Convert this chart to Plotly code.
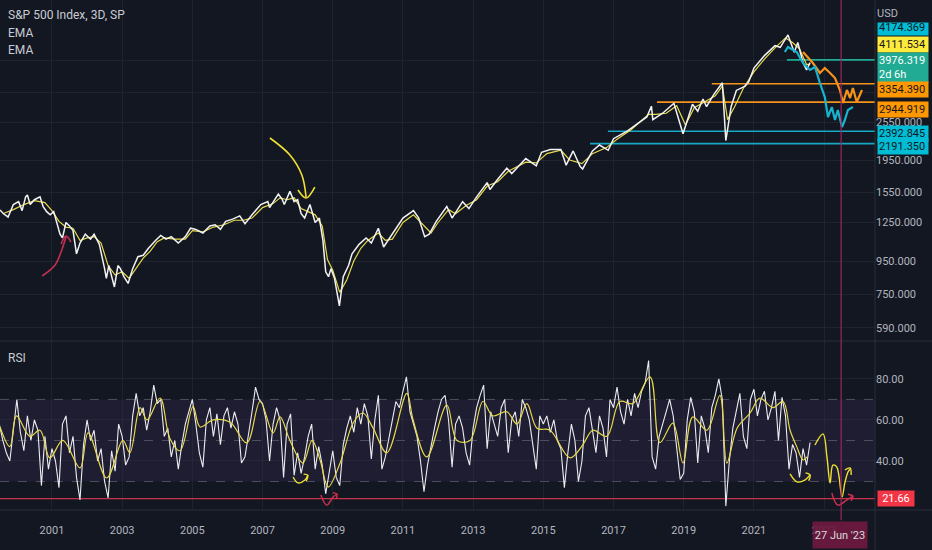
import numpy as np
import plotly.graph_objects as go

BG = "#131722"
TXT = "#b2b5be"
GRID = "rgba(54,58,69,0.35)"
FONT = "Roboto, sans-serif"

# visible time window (decimal years)
X_START, X_END = 1999.52, 2024.45

# S&P 500 close (3D)
PRICE_T = [1999.52, 1999.62, 1999.75, 1999.90, 2000.05, 2000.15, 2000.25, 2000.30, 2000.38, 2000.50,
           2000.66, 2000.75, 2000.85, 2000.95, 2001.05, 2001.15, 2001.23, 2001.30, 2001.40, 2001.50,
           2001.60, 2001.70, 2001.80, 2001.95, 2002.10, 2002.20, 2002.35, 2002.50, 2002.55, 2002.62,
           2002.70, 2002.78, 2002.88, 2002.95, 2003.05, 2003.17, 2003.30, 2003.45, 2003.60, 2003.75,
           2003.95, 2004.10, 2004.25, 2004.40, 2004.60, 2004.80, 2004.95, 2005.10, 2005.30, 2005.50,
           2005.65, 2005.80, 2005.95, 2006.15, 2006.35, 2006.50, 2006.70, 2006.95, 2007.15, 2007.20,
           2007.45, 2007.55, 2007.62, 2007.78, 2007.90, 2008.00, 2008.10, 2008.20, 2008.35, 2008.50,
           2008.62, 2008.72, 2008.80, 2008.88, 2008.95, 2009.05, 2009.19, 2009.30, 2009.45, 2009.55,
           2009.75, 2009.95, 2010.10, 2010.30, 2010.45, 2010.60, 2010.75, 2011.00, 2011.30, 2011.45,
           2011.62, 2011.75, 2011.95, 2012.25, 2012.40, 2012.70, 2012.88, 2013.10, 2013.40, 2013.48,
           2013.70, 2013.96, 2014.10, 2014.50, 2014.80, 2014.95, 2015.20, 2015.50, 2015.65, 2015.85,
           2016.05, 2016.12, 2016.40, 2016.60, 2016.85, 2017.00, 2017.40, 2017.95, 2018.08, 2018.12,
           2018.40, 2018.72, 2018.98, 2019.25, 2019.40, 2019.55, 2019.65, 2019.85, 2020.10, 2020.20,
           2020.35, 2020.50, 2020.75, 2020.85, 2021.00, 2021.30, 2021.60, 2021.75, 2021.97, 2022.15,
           2022.25, 2022.40, 2022.50, 2022.60]
PRICE_V = [1366, 1330, 1300, 1420, 1450, 1360, 1500, 1520, 1420, 1470,
           1500, 1400, 1350, 1320, 1350, 1240, 1150, 1120, 1250, 1220,
           1180, 1000, 1080, 1150, 1110, 1150, 1070, 900, 840, 920,
           850, 790, 920, 900, 850, 810, 900, 980, 990, 1040,
           1100, 1140, 1110, 1130, 1080, 1130, 1200, 1190, 1160, 1220,
           1230, 1190, 1260, 1280, 1310, 1240, 1320, 1420, 1450, 1390,
           1530, 1480, 1420, 1560, 1450, 1470, 1330, 1290, 1420, 1250,
           1290, 1100, 880, 850, 900, 840, 690, 850, 920, 1000,
           1070, 1120, 1080, 1200, 1050, 1110, 1180, 1290, 1360, 1290,
           1130, 1150, 1260, 1400, 1290, 1450, 1380, 1500, 1660, 1580,
           1700, 1840, 1770, 1970, 1870, 2060, 2100, 2100, 1880, 2080,
           1860, 1830, 2080, 2170, 2090, 2270, 2400, 2650, 2860, 2600,
           2720, 2920, 2350, 2900, 2760, 3010, 2850, 3100, 3380, 2240,
           2850, 3200, 3300, 3400, 3750, 4100, 4400, 4350, 4750, 4200,
           4500, 3900, 3700, 3900]

# slower EMA (yellow)
EMA_T = [1999.6, 1999.9, 2000.2, 2000.5, 2000.8, 2001.0, 2001.2, 2001.4, 2001.6, 2001.8,
         2002.0, 2002.2, 2002.4, 2002.6, 2002.8, 2003.0, 2003.2, 2003.4, 2003.6, 2003.8,
         2004.0, 2004.2, 2004.5, 2004.8, 2005.0, 2005.3, 2005.6, 2005.9, 2006.2, 2006.45,
         2006.7, 2007.0, 2007.3, 2007.5, 2007.7, 2007.9, 2008.1, 2008.3, 2008.5, 2008.7,
         2008.85, 2009.0, 2009.2, 2009.4, 2009.6, 2009.8, 2010.0, 2010.3, 2010.5, 2010.7,
         2011.0, 2011.3, 2011.6, 2011.8, 2012.0, 2012.3, 2012.5, 2012.8, 2013.1, 2013.4,
         2013.7, 2014.0, 2014.5, 2014.8, 2015.1, 2015.5, 2015.75, 2016.1, 2016.4, 2016.8,
         2017.1, 2017.5, 2018.0, 2018.2, 2018.5, 2018.8, 2019.05, 2019.3, 2019.6, 2019.9,
         2020.1, 2020.25, 2020.45, 2020.7, 2021.0, 2021.3, 2021.6, 2021.9, 2022.1, 2022.3,
         2022.5, 2022.6]
EMA_V = [1330, 1370, 1420, 1460, 1440, 1360, 1260, 1210, 1200, 1100,
         1120, 1130, 1080, 920, 860, 880, 840, 900, 970, 1020,
         1090, 1120, 1110, 1110, 1180, 1170, 1210, 1230, 1270, 1270,
         1290, 1390, 1430, 1490, 1470, 1490, 1380, 1350, 1320, 1220,
         960, 890, 760, 830, 950, 1040, 1100, 1160, 1100, 1110,
         1250, 1320, 1220, 1160, 1250, 1370, 1330, 1410, 1470, 1620,
         1670, 1800, 1920, 1910, 2040, 2090, 1950, 1900, 2040, 2130,
         2260, 2420, 2700, 2700, 2720, 2870, 2500, 2830, 2950, 3080,
         3300, 2600, 2850, 3250, 3650, 4000, 4330, 4650, 4500, 4300,
         3850, 3850]

# projected bar patterns drawn after the last bar
CYAN_PROJ_T = [2021.88, 2021.97, 2022.22, 2022.40, 2022.60, 2022.74, 2022.88, 2023.02, 2023.11,
               2023.22, 2023.31, 2023.39, 2023.51, 2023.59, 2023.68, 2023.82]
CYAN_PROJ_V = [4206, 4359, 4206, 3889, 3701, 3780, 3373, 3053, 2648,
               2843, 2592, 2783, 2466, 2592, 2783, 2843]
ORANGE_PROJ_T = [2022.40, 2022.68, 2022.88, 2023.02, 2023.17, 2023.31, 2023.45, 2023.54, 2023.65,
                 2023.74, 2023.82, 2023.93, 2024.08]
ORANGE_PROJ_V = [4206, 3889, 3623, 3753, 3623, 3495, 3209, 2926, 3209,
                 3032, 3255, 2947, 3209]

# horizontal levels: value, start, colour
LEVELS = [3976.319, 3354.390, 2944.919, 2392.845, 2191.350]
LEVEL_START = [2021.94, 2019.80, 2018.24, 2016.84, 2016.33]
LEVEL_COLOR = ["#22ab94", "#f7931a", "#f7931a", "#17a9c4", "#17a9c4"]

# price scale: 3150 and 3950 sit under the level labels, so only their grid lines show
PRICE_TICKS = [590, 750, 950, 1250, 1550, 1950, 2550, 3150, 3950]
PRICE_TICK_TEXT = ["590.000", "750.000", "950.000", "1250.000", "1550.000", "1950.000",
                   "2550.000", "", ""]
YEARS = list(range(2001, 2024, 2))

# RSI(14), one reading every 0.1 year from 1999.5
RSI_V = [58, 50, 44, 40, 55,
         70, 54, 45, 62, 50, 60, 55, 28, 52, 36,
         46, 40, 27, 58, 62, 44, 52, 32, 21, 48,
         60, 50, 55, 40, 46, 30, 22, 45, 35, 58,
         52, 38, 42, 62, 73, 62, 66, 55, 64, 77,
         68, 70, 52, 56, 42, 50, 36, 48, 58, 64,
         70, 58, 44, 37, 60, 66, 52, 63, 48, 62,
         66, 56, 64, 58, 39, 42, 52, 64, 76, 70,
         68, 60, 40, 58, 66, 60, 32, 58, 63, 33,
         44, 34, 42, 52, 58, 36, 47, 38, 24, 35,
         45, 32, 28, 48, 56, 62, 54, 66, 58, 68,
         62, 41, 60, 72, 36, 42, 52, 60, 69, 66,
         74, 81, 64, 58, 52, 40, 25, 38, 48, 56,
         64, 70, 72, 60, 37, 58, 62, 56, 44, 38,
         56, 66, 72, 77, 46, 64, 58, 52, 66, 70,
         44, 60, 64, 52, 70, 66, 60, 48, 36, 62,
         58, 62, 54, 60, 50, 46, 27, 44, 58, 50,
         30, 40, 62, 66, 56, 44, 62, 56, 42, 70,
         66, 76, 64, 58, 70, 62, 73, 66, 74, 78,
         89, 42, 36, 52, 58, 64, 70, 62, 48, 31,
         34, 60, 71, 64, 39, 62, 56, 44, 66, 72,
         80, 70, 18, 40, 56, 64, 73, 52, 46, 70,
         75, 62, 70, 74, 60, 66, 74, 50, 71, 62,
         36, 48, 44, 32, 46, 38, 49]
RSI_T = np.round(np.linspace(1999.5, 2022.6, len(RSI_V)), 2)

# RSI smoothing line (yellow)
RSI_MA_T = [1999.52, 1999.80, 1999.99, 2000.37, 2000.66, 2000.94, 2001.31, 2001.80, 2002.03, 2002.56,
            2003.02, 2003.22, 2003.51, 2003.71, 2004.08, 2004.36, 2004.65, 2005.02, 2005.22, 2005.59,
            2006.07, 2006.55, 2006.93, 2007.30, 2007.50, 2007.78, 2008.15, 2008.41, 2008.64, 2008.87,
            2009.21, 2009.58, 2009.86, 2010.15, 2010.54, 2011.11, 2011.29, 2011.68, 2012.25, 2012.54,
            2012.91, 2013.28, 2013.56, 2013.96, 2014.25, 2014.53, 2014.82, 2015.19, 2015.76, 2016.13,
            2016.41, 2016.81, 2017.18, 2017.55, 2018.04, 2018.32, 2018.69, 2018.98, 2019.26, 2019.66,
            2020.03, 2020.23, 2020.52, 2020.89, 2021.17, 2021.54, 2021.83, 2022.03, 2022.22, 2022.40,
            2022.51]
RSI_MA_V = [56.6, 47, 62, 52, 55, 41.5, 50, 36.6, 53.7, 31.7,
            50, 44, 66, 60, 70.7, 51, 45, 66.5, 56.6, 60,
            59, 48.8, 69, 53.7, 61.5, 50, 39, 50, 40.5, 27.3,
            39, 58.5, 63.4, 56, 44, 73, 60, 42, 67.3, 50,
            50, 69, 62, 64, 58, 68, 56, 55, 41.5, 48,
            55, 52, 69, 68, 81, 49, 58.5, 39, 61.5, 55,
            72, 39, 56, 63.4, 70.7, 66, 69, 55, 47, 40.5,
            42]
RSI_TICKS = [40, 60, 80]
RSI_ALERT = 21.66

CROSS_T = 2023.486  # 27 Jun '23

# hand-drawn marks: (t list, value list, colour)
PRICE_SKETCH = [
    ([2007.21, 2007.78, 2008.12, 2008.24], [2281, 2021, 1752, 1499], "#f0e130"),
    ([2008.01, 2008.24, 2008.49], [1575, 1488, 1609], "#f0e130"),
    ([2000.72, 2001.09, 2001.28, 2001.40], [854, 924, 1028, 1127], "#c2304f"),
    ([2001.26, 2001.40, 2001.54], [1072, 1135, 1088], "#c2304f"),
]
RSI_SKETCH = [
    ([2007.87, 2008.01, 2008.21, 2008.29], [32.2, 29.3, 30.7, 33.0], "#f0e130"),
    ([2008.17, 2008.29, 2008.24], [33.6, 33.0, 30.2], "#f0e130"),
    ([2008.66, 2008.83, 2009.01, 2009.12], [23.4, 18.5, 22.4, 23.9], "#d2304f"),
    ([2009.00, 2009.12, 2009.10], [24.6, 23.9, 21.6], "#d2304f"),
    ([2022.03, 2022.23, 2022.45, 2022.60], [33.7, 29.8, 30.7, 33.2], "#f0e130"),
    ([2022.47, 2022.60, 2022.56], [34.2, 33.2, 30.4], "#f0e130"),
    ([2022.74, 2022.97, 2023.08, 2023.17, 2023.25, 2023.36, 2023.51, 2023.59, 2023.68, 2023.74],
     [47.8, 53.2, 42, 29.3, 38, 37.1, 22.4, 29.3, 34.6, 36.1], "#f0e130"),
    ([2023.59, 2023.74, 2023.77], [35.6, 36.6, 33.2], "#f0e130"),
    ([2023.22, 2023.39, 2023.65, 2023.82], [24.4, 18.5, 21.0, 22.9], "#d2304f"),
    ([2023.68, 2023.82, 2023.77], [23.8, 22.9, 20.6], "#d2304f"),
]

# price-scale labels: text, value, background, text colour, shift in px
AXIS_LABELS = [
    ("4174.369", 4174.369, "#00bcd4", "#131722", 26),
    ("4111.534", 4111.534, "#ffeb3b", "#131722", 11),
    ("3976.319<br>2d 6h", 3976.319, "#22ab94", "#ffffff", -8),
    ("3354.390", 3354.390, "#ff9800", "#131722", -6),
    ("2944.919", 2944.919, "#ff9800", "#131722", -7),
    ("2392.845", 2392.845, "#00bcd4", "#131722", -2),
    ("2191.350", 2191.350, "#00bcd4", "#131722", -3),
]

fig = go.Figure()

# price pane
for v, t0, c in zip(LEVELS, LEVEL_START, LEVEL_COLOR):
    fig.add_trace(go.Scatter(x=[t0, X_END], y=[v, v], mode="lines",
                             line=dict(color=c, width=1.6), xaxis="x", yaxis="y"))

fig.add_trace(go.Scatter(x=EMA_T, y=EMA_V, mode="lines", line=dict(color="#e6d94a", width=1.2),
                         xaxis="x", yaxis="y"))
fig.add_trace(go.Scatter(x=PRICE_T, y=PRICE_V, mode="lines", line=dict(color="#f2f2f2", width=1.5),
                         xaxis="x", yaxis="y"))
fig.add_trace(go.Scatter(x=ORANGE_PROJ_T, y=ORANGE_PROJ_V, mode="lines",
                         line=dict(color="#f7931a", width=2.2), xaxis="x", yaxis="y"))
fig.add_trace(go.Scatter(x=CYAN_PROJ_T, y=CYAN_PROJ_V, mode="lines",
                         line=dict(color="#17b3cf", width=2.2), xaxis="x", yaxis="y"))

for t, v, c in PRICE_SKETCH:
    fig.add_trace(go.Scatter(x=t, y=v, mode="lines", line=dict(color=c, width=1.6, shape="spline"),
                             xaxis="x", yaxis="y"))

# RSI pane
fig.add_trace(go.Scatter(x=[X_START, X_END], y=[RSI_ALERT, RSI_ALERT], mode="lines",
                         line=dict(color="#c8324a", width=1.2), xaxis="x2", yaxis="y2"))
fig.add_trace(go.Scatter(x=RSI_T, y=RSI_V, mode="lines", line=dict(color="#ececf0", width=1.1),
                         xaxis="x2", yaxis="y2"))
fig.add_trace(go.Scatter(x=RSI_MA_T, y=RSI_MA_V, mode="lines",
                         line=dict(color="#e6d94a", width=1.2, shape="spline"), xaxis="x2", yaxis="y2"))
for t, v, c in RSI_SKETCH:
    fig.add_trace(go.Scatter(x=t, y=v, mode="lines", line=dict(color=c, width=1.4, shape="spline"),
                             xaxis="x2", yaxis="y2"))

shapes = [
    dict(type="rect", xref="x2 domain", yref="y2", x0=0, x1=1, y0=30, y1=70,
         fillcolor="rgba(126,87,194,0.10)", line=dict(width=0), layer="below"),
]
for lvl in (70, 50, 30):
    shapes.append(dict(type="line", xref="x2 domain", yref="y2", x0=0, x1=1, y0=lvl, y1=lvl,
                       line=dict(color="rgba(120,123,134,0.55)", width=1, dash="dash"), layer="below"))
# pane separators and price scale border
for yy in (1 - 341 / 510, 0):
    shapes.append(dict(type="line", xref="paper", yref="paper", x0=0, x1=1.07, y0=yy, y1=yy,
                       line=dict(color="#2a2e39", width=1)))
shapes.append(dict(type="line", xref="paper", yref="paper", x0=1, x1=1, y0=-0.08, y1=1,
                   line=dict(color="#2a2e39", width=1)))
# crosshair
shapes.append(dict(type="line", xref="x2", yref="paper", x0=CROSS_T, x1=CROSS_T, y0=-0.02, y1=1,
                   line=dict(color="rgba(160,36,96,0.85)", width=1.4)))

annotations = []
for i, txt in enumerate(["S&P 500 Index, 3D, SP", "EMA", "EMA"]):
    annotations.append(dict(text=txt, xref="paper", yref="paper", x=0, y=1 - (15 + 17.5 * i) / 510,
                            xanchor="left", yanchor="middle", xshift=6, showarrow=False,
                            font=dict(family=FONT, size=12, color="#c9ccd4")))
annotations.append(dict(text="RSI", xref="paper", yref="paper", x=0, y=1 - 358 / 510,
                        xanchor="left", yanchor="middle", xshift=6, showarrow=False,
                        font=dict(family=FONT, size=12, color="#c9ccd4")))

for txt, v, bg, fg, sh in AXIS_LABELS:
    two = "<br>" in txt
    annotations.append(dict(text=txt, xref="paper", yref="y", x=1, y=np.log10(v), yshift=sh,
                            xanchor="left", yanchor="middle", xshift=2, showarrow=False,
                            bgcolor=bg, width=48, height=27 if two else 13, borderpad=1, align="left",
                            font=dict(family=FONT, size=11, color=fg)))
annotations.append(dict(text="USD", xref="paper", yref="paper", x=1, y=1 - 13 / 510,
                        xanchor="left", yanchor="middle", xshift=1, showarrow=False,
                        bgcolor=BG, width=54, height=17, borderpad=0, align="left",
                        font=dict(family=FONT, size=11, color=TXT)))
annotations.append(dict(text="21.66", xref="paper", yref="y2", x=1, y=RSI_ALERT,
                        xanchor="left", yanchor="middle", xshift=2, showarrow=False,
                        bgcolor="#f23645", width=34, height=13, borderpad=1,
                        font=dict(family=FONT, size=11, color="#ffffff")))
annotations.append(dict(text="27 Jun '23", xref="x2", yref="paper", x=CROSS_T, y=1 - 535 / 510,
                        xanchor="center", yanchor="middle", showarrow=False, xshift=-1,
                        bgcolor="rgba(110,26,64,0.92)", width=52, height=24, borderpad=1,
                        font=dict(family=FONT, size=11, color="#d8d9de")))

axis_common = dict(showline=False, zeroline=False, ticks="", fixedrange=True,
                   tickfont=dict(family=FONT, size=11, color=TXT))

fig.update_layout(
    width=932, height=550,
    margin=dict(l=0, r=57, t=0, b=40),
    paper_bgcolor=BG, plot_bgcolor=BG,
    showlegend=False, hovermode=False,
    shapes=shapes, annotations=annotations,
    xaxis=dict(domain=[0, 1], anchor="y", range=[X_START, X_END], tickvals=YEARS,
               showticklabels=False, gridcolor=GRID, **axis_common),
    xaxis2=dict(domain=[0, 1], anchor="y2", matches="x", range=[X_START, X_END], tickvals=YEARS,
                ticktext=[str(y) for y in YEARS], gridcolor=GRID, ticklabelstandoff=12,
                **axis_common),
    yaxis=dict(domain=[1 - 340 / 510, 1], anchor="x", type="log", side="right",
               range=[np.log10(541.6), np.log10(6090)], tickvals=PRICE_TICKS,
               ticktext=PRICE_TICK_TEXT, gridcolor=GRID, automargin=False,
               **axis_common),
    yaxis2=dict(domain=[0, 1 - 341 / 510], anchor="x2", side="right", range=[16.1, 98.5],
                tickvals=RSI_TICKS, ticktext=[f"{v:.2f}" for v in RSI_TICKS], gridcolor=GRID,
                automargin=False, **axis_common),
)

fig.write_html("out.html", config={"displayModeBar": False},
               post_script="document.body.style.margin='0';document.body.style.background='#131722';")
